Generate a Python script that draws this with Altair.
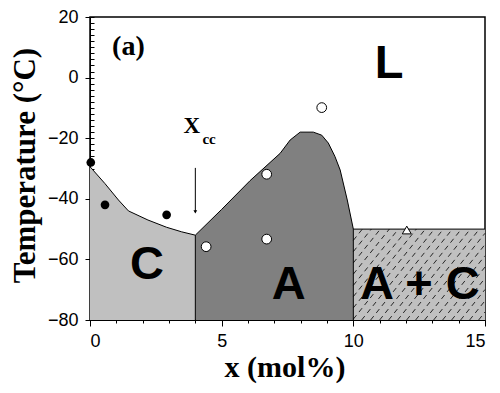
import altair as alt
import pandas as pd
import numpy as np

# ---- data ----
c_x = [0.0, 0.57, 1.08, 1.46, 2.2, 2.91, 3.48, 4.0]
c_y = [-29.4, -35.0, -40.4, -44.0, -47.0, -49.4, -50.9, -52.0]

a_x = [4.0, 5.0, 6.08, 7.22, 7.6, 7.98, 8.48, 8.8, 9.05, 9.3, 9.5, 9.77, 10.0]
a_y = [-52.0, -43.5, -34.0, -25.0, -20.6, -18.0, -18.0, -19.0, -21.6, -26.0, -30.5, -40.4, -50.0]

ac_x = [10.0, 15.0]
ac_y = [-50.0, -50.0]

filled_x = [0.03, 0.57, 2.91]
filled_y = [-28.0, -42.0, -45.3]
open_x = [4.41, 6.71, 6.71, 8.8]
open_y = [-55.8, -31.9, -53.3, -9.9]
tri_x = [12.03]
tri_y = [-50.3]

label_text = ["L", "C", "A", "A + C"]
label_x = [11.36, 2.16, 7.55, 12.53]
label_y = [0.0, -66.5, -73.1, -73.1]

arrow_x = [4.0]
arrow_top = [-29.8]
arrow_bottom = [-44.3]

x_major = [0, 5, 10, 15]
x_minor = list(range(0, 16))
y_major = [-80, -60, -40, -20, 0, 20]
y_minor = list(range(-80, 21, 2))

X_DOM = [0, 15]
Y_DOM = [-80, 20]
W, H = 395, 303
BOTTOM = -80

xs = alt.Scale(domain=X_DOM, nice=False, zero=False)
ys = alt.Scale(domain=Y_DOM, nice=False, zero=False)

SERIF = "Liberation Serif"
SANS = "Liberation Sans"
NARROW = "Liberation Sans Narrow, Liberation Sans"

# ---- tables ----
c_df = pd.DataFrame({"x": c_x, "y": c_y, "y2": BOTTOM})
a_df = pd.DataFrame({"x": a_x, "y": a_y, "y2": BOTTOM})
ac_df = pd.DataFrame({"x": ac_x, "y": ac_y, "y2": BOTTOM})

# hatch lines for the A + C region (texture), clipped to the region
ppx = W / (X_DOM[1] - X_DOM[0])
ppy = H / (Y_DOM[1] - Y_DOM[0])
rx0, rx1, ry0, ry1 = ac_x[0], ac_x[1], BOTTOM, ac_y[0]
slope_px = 1.25
spacing_px = 9.0
wpx = (rx1 - rx0) * ppx
hpx = (ry1 - ry0) * ppy
segs = []
start = -hpx / slope_px
k = 0
while start + k * spacing_px < wpx:
    xb = start + k * spacing_px
    xt = xb + hpx / slope_px
    px0, py0, px1, py1 = xb, 0.0, xt, hpx
    if px0 < 0:
        py0 = (0 - xb) * slope_px
        px0 = 0.0
    if px1 > wpx:
        py1 = (wpx - xb) * slope_px
        px1 = wpx
    if px1 > px0:
        segs.append({
            "x": rx0 + px0 / ppx, "x2": rx0 + px1 / ppx,
            "y": ry0 + py0 / ppy, "y2": ry0 + py1 / ppy,
        })
    k += 1
hatch_df = pd.DataFrame(segs)

filled_df = pd.DataFrame({"x": filled_x, "y": filled_y})
open_df = pd.DataFrame({"x": open_x, "y": open_y})
tri_df = pd.DataFrame({"x": tri_x, "y": tri_y})
labels_df = pd.DataFrame({"x": label_x, "y": label_y, "t": label_text})
arrow_df = pd.DataFrame({"x": arrow_x, "y": arrow_top, "y2": arrow_bottom})
vlines_df = pd.DataFrame({"x": [c_x[-1], a_x[-1]], "y": [BOTTOM, BOTTOM], "y2": [c_y[-1], a_y[-1]]})

# ---- axes ----
x_axis_main = alt.Axis(
    values=x_major, orient="bottom", format="d", grid=False,
    tickSize=6, tickColor="black", tickWidth=1,
    domainColor="black", domainWidth=1,
    labelFont=NARROW, labelFontSize=18, labelColor="black", labelPadding=6,
    title="x (mol%)", titleFont=SERIF, titleFontSize=30, titleFontWeight="bold",
    titleColor="black", titleX=194.5, titleY=56, titleBaseline="alphabetic",
)
y_axis_main = alt.Axis(
    values=y_major, orient="left", format="d", grid=False,
    tickSize=5, tickColor="black", tickWidth=1,
    domainColor="black", domainWidth=1,
    labelFont=NARROW, labelFontSize=18, labelColor="black", labelPadding=7,
    title="Temperature (°C)", titleFont=SERIF, titleFontSize=31, titleFontWeight="bold",
    titleColor="black", titleAngle=270, titleX=-56, titleY=148, titleBaseline="alphabetic",
)
x_axis_minor = alt.Axis(
    values=x_minor, orient="bottom", grid=False, labels=False, domain=False,
    tickSize=3, tickColor="black", tickWidth=1, title=None,
)
y_axis_minor = alt.Axis(
    values=y_minor, orient="left", grid=False, labels=False, domain=False,
    tickSize=4, offset=-4, tickColor="black", tickWidth=1, title=None,
)


def area_layer(df, color, xaxis=None, yaxis=None):
    return alt.Chart(df).mark_area(color=color, opacity=1, line=False).encode(
        x=alt.X("x:Q", scale=xs, axis=xaxis),
        y=alt.Y("y:Q", scale=ys, axis=yaxis),
        y2="y2:Q",
    )


c_area = area_layer(c_df, "#c0c0c0", x_axis_main, y_axis_main)
a_area = area_layer(a_df, "#808080")
ac_area = area_layer(ac_df, "#c0c0c0")

hatch = alt.Chart(hatch_df).mark_rule(color="black", strokeWidth=0.9, strokeDash=[5, 4], opacity=0.9).encode(
    x=alt.X("x:Q", scale=xs, axis=None), x2="x2:Q",
    y=alt.Y("y:Q", scale=ys, axis=None), y2="y2:Q",
)


def line_layer(df, xaxis=None, yaxis=None):
    return alt.Chart(df).mark_line(color="black", strokeWidth=1).encode(
        x=alt.X("x:Q", scale=xs, axis=xaxis),
        y=alt.Y("y:Q", scale=ys, axis=yaxis),
        order=alt.Order("x:Q"),
    )


c_line = line_layer(c_df, x_axis_minor, y_axis_minor)
a_line = line_layer(a_df)
ac_line = line_layer(ac_df)

vlines = alt.Chart(vlines_df).mark_rule(color="black", strokeWidth=1).encode(
    x=alt.X("x:Q", scale=xs, axis=None),
    y=alt.Y("y:Q", scale=ys, axis=None), y2="y2:Q",
)

arrow = alt.Chart(arrow_df).mark_rule(color="black", strokeWidth=1).encode(
    x=alt.X("x:Q", scale=xs, axis=None),
    y=alt.Y("y:Q", scale=ys, axis=None), y2="y2:Q",
)
arrow_head = alt.Chart(arrow_df).mark_point(shape="triangle-down", filled=True, color="black", size=14, opacity=1).encode(
    x=alt.X("x:Q", scale=xs, axis=None),
    y=alt.Y("y2:Q", scale=ys, axis=None),
)

filled_pts = alt.Chart(filled_df).mark_point(shape="circle", filled=True, color="black", size=75, opacity=1).encode(
    x=alt.X("x:Q", scale=xs, axis=None),
    y=alt.Y("y:Q", scale=ys, axis=None),
)
open_pts = alt.Chart(open_df).mark_point(shape="circle", filled=True, fill="white", stroke="black", strokeWidth=1, size=95, opacity=1).encode(
    x=alt.X("x:Q", scale=xs, axis=None),
    y=alt.Y("y:Q", scale=ys, axis=None),
)
tri_pts = alt.Chart(tri_df).mark_point(shape="triangle-up", filled=True, fill="white", stroke="black", strokeWidth=1, size=80, opacity=1).encode(
    x=alt.X("x:Q", scale=xs, axis=None),
    y=alt.Y("y:Q", scale=ys, axis=None),
)

region_text = alt.Chart(labels_df).mark_text(
    font=SANS, fontSize=47, fontWeight="bold", color="black", align="center", baseline="alphabetic"
).encode(
    x=alt.X("x:Q", scale=xs, axis=None),
    y=alt.Y("y:Q", scale=ys, axis=None),
    text="t:N",
)

panel_df = pd.DataFrame({"x": [1.46], "y": [7.6], "t": ["(a)"]})
panel_text = alt.Chart(panel_df).mark_text(
    font=SERIF, fontSize=28, fontWeight="bold", color="black", align="center", baseline="alphabetic"
).encode(
    x=alt.X("x:Q", scale=xs, axis=None),
    y=alt.Y("y:Q", scale=ys, axis=None),
    text="t:N",
)

xcc_main = pd.DataFrame({"x": [3.55], "y": [-18.4], "t": ["X"]})
xcc_sub = pd.DataFrame({"x": [4.27], "y": [-22.0], "t": ["cc"]})
xcc_text = alt.Chart(xcc_main).mark_text(
    font=SERIF, fontSize=23, fontWeight="bold", color="black", align="left", baseline="alphabetic"
).encode(
    x=alt.X("x:Q", scale=xs, axis=None),
    y=alt.Y("y:Q", scale=ys, axis=None),
    text="t:N",
)
xcc_sub_text = alt.Chart(xcc_sub).mark_text(
    font=SERIF, fontSize=15, fontWeight="bold", color="black", align="left", baseline="alphabetic"
).encode(
    x=alt.X("x:Q", scale=xs, axis=None),
    y=alt.Y("y:Q", scale=ys, axis=None),
    text="t:N",
)

chart = alt.layer(
    c_area, a_area, ac_area, hatch,
    c_line, a_line, ac_line, vlines,
    arrow, arrow_head,
    filled_pts, open_pts, tri_pts,
    region_text, panel_text, xcc_text, xcc_sub_text,
).resolve_axis(
    x="independent", y="independent"
).properties(
    width=W, height=H,
    autosize=alt.AutoSizeParams(type="none"),
    padding={"left": 82, "top": 9, "right": 7, "bottom": 65},
    background="white",
).configure_view(
    stroke="black", strokeWidth=1.5
)

chart.save("out.html", embed_options={"renderer": "svg", "actions": False})
